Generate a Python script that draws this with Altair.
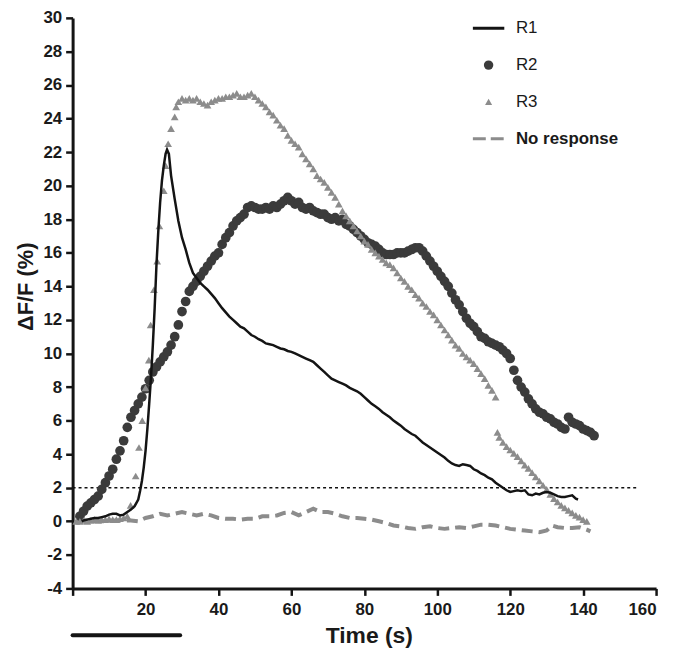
import altair as alt
import pandas as pd

# ---------------- data ----------------
series_names = ["R1", "R2", "R3", "No response"]
series_colors = ["#141414", "#3b3b3b", "#8c8c8c", "#8c8c8c"]

r1_time = [2.5, 3, 4, 5, 6, 7, 8, 9, 10, 11, 12, 13, 14, 15, 16, 17, 18, 18.5, 19, 19.5,
           20, 20.5, 21, 21.5, 22, 22.5, 23, 23.5, 24, 24.5, 25, 25.5, 25.9, 26.4, 27, 28,
           29, 30, 31, 32] + list(range(33, 139)) + [138.6]
r1_value = [0.0, 0.05, 0.1, 0.15, 0.2, 0.2, 0.25, 0.3, 0.4, 0.45, 0.45, 0.35, 0.4, 0.55, 0.7, 0.9,
            1.3, 1.8, 2.4, 3.2, 4.2, 5.5, 7.0, 8.6, 10.5, 12.7, 15.3, 17.3, 19.0, 20.3, 21.2, 21.9,
            22.15, 21.9, 20.6, 19.2, 17.9, 16.9, 16.2, 15.4,
            14.8, 14.5, 14.2, 14.0, 13.8, 13.55, 13.3, 13.0, 12.7, 12.45,
            12.2, 12.0, 11.8, 11.6, 11.5, 11.3, 11.1, 11.0, 10.85, 10.75,
            10.6, 10.55, 10.5, 10.4, 10.3, 10.25, 10.15, 10.1, 10.0, 9.9,
            9.8, 9.7, 9.6, 9.5, 9.3, 9.1, 8.9, 8.7, 8.5, 8.4,
            8.3, 8.2, 8.1, 7.95, 7.85, 7.75, 7.6, 7.4, 7.2, 7.0,
            6.85, 6.7, 6.5, 6.35, 6.2, 6.0, 5.85, 5.7, 5.5, 5.35,
            5.2, 5.1, 4.9, 4.7, 4.55, 4.4, 4.25, 4.1, 3.95, 3.8,
            3.6, 3.45, 3.35, 3.3, 3.4, 3.35, 3.3, 3.1, 3.0, 2.85,
            2.75, 2.6, 2.5, 2.3, 2.15, 2.0, 1.85, 1.75, 1.8, 1.85,
            1.8, 1.85, 1.6, 1.55, 1.65, 1.6, 1.7, 1.75, 1.7, 1.6,
            1.5, 1.45, 1.45, 1.5, 1.55, 1.35,
            1.3]

r2_time = list(range(2, 144))
r2_value = [0.3, 0.6, 0.9, 1.1, 1.3, 1.5, 1.9, 2.3, 2.7, 3.1,
            3.7, 4.2, 4.8, 5.6, 6.2, 6.6, 7.0, 7.4, 7.9, 8.4,
            8.9, 9.2, 9.5, 9.8, 10.1, 10.5, 11.0, 11.7, 12.5, 13.1,
            13.7, 14.0, 14.3, 14.6, 14.9, 15.2, 15.5, 15.8, 16.0, 16.5,
            16.9, 17.2, 17.6, 17.9, 18.1, 18.3, 18.7, 18.8, 18.7, 18.6,
            18.6, 18.7, 18.6, 18.8, 18.7, 18.9, 19.1, 19.3, 19.1, 18.9,
            19.0, 18.7, 18.6, 18.7, 18.5, 18.4, 18.3, 18.3, 18.1, 18.0,
            18.1, 17.9, 18.0, 17.7, 17.6, 17.4, 17.2, 17.0, 16.8, 16.6,
            16.5, 16.4, 16.2, 16.0, 15.9, 15.9, 15.9, 16.0, 16.0, 16.0,
            16.1, 16.2, 16.3, 16.3, 16.1, 15.8, 15.5, 15.2, 14.9, 14.6,
            14.3, 14.0, 13.6, 13.2, 12.9, 12.5, 12.1, 11.8, 11.6, 11.3,
            11.0, 10.9, 10.7, 10.6, 10.5, 10.4, 10.2, 10.0, 9.7, 9.0,
            8.4, 8.0, 7.7, 7.3, 7.0, 6.7, 6.5, 6.4, 6.2, 6.1,
            5.9, 5.8, 5.6, 5.5, 6.2, 5.9, 5.8, 5.7, 5.5, 5.4,
            5.3, 5.1]

r3_time = (list(range(1, 16))
           + [15.9, 17.3, 18.2, 19.1, 20.0, 20.9, 21.4, 22.3, 23.2, 23.8, 25.0, 25.5, 26.2, 27.0, 28.0, 28.4]
           + list(range(29, 117))
           + [116.5] + list(range(117, 142)))
r3_value = ([0.0, 0.0, 0.05, 0.0, 0.05, 0.1, 0.05, 0.1, 0.1, 0.15, 0.1, 0.1, 0.15, 0.2, 0.3]
            + [0.95, 2.7, 4.4, 6.0, 7.95, 9.6, 11.7, 13.8, 15.5, 17.6, 19.7, 21.2, 22.5, 23.4, 24.1, 24.7]
            + [25.0, 25.2, 25.1, 25.2, 25.1, 25.2, 25.0, 24.9, 24.8, 25.0,
               25.1, 25.2, 25.2, 25.3, 25.3, 25.4, 25.5, 25.3, 25.3, 25.4,
               25.5, 25.3, 25.1, 24.9, 24.7, 24.4, 24.2, 23.9, 23.6, 23.4,
               23.0, 22.7, 22.5, 22.3, 21.9, 21.6, 21.3, 21.0, 20.6, 20.4,
               20.2, 19.9, 19.6, 19.3, 18.9, 18.5, 18.2, 17.9, 17.6, 17.3,
               17.0, 16.7, 16.5, 16.2, 16.0, 15.8, 15.6, 15.4, 15.3, 15.1,
               14.8, 14.5, 14.3, 14.0, 13.8, 13.5, 13.3, 13.0, 12.8, 12.5,
               12.3, 12.0, 11.7, 11.4, 11.1, 10.8, 10.5, 10.3, 10.0, 9.8,
               9.6, 9.4, 9.1, 8.8, 8.5, 8.1, 7.8, 7.4]
            + [5.3, 5.0, 4.7, 4.45, 4.25, 4.05, 3.85, 3.6, 3.35, 3.15,
               2.9, 2.65, 2.4, 2.15, 1.9, 1.6, 1.35, 1.15, 0.95, 0.8,
               0.65, 0.5, 0.35, 0.25, 0.1, 0.0])

nr_time = [1, 4, 8, 12, 16, 18, 20, 22, 24, 26, 28, 30, 32, 34, 36, 38, 40, 42, 44, 46, 48, 50,
           52, 54, 56, 58, 60, 62, 64, 66, 68, 70, 72, 74, 76, 78, 80, 82, 84, 86, 88, 90, 92,
           94, 96, 98, 100, 102, 104, 106, 108, 110, 112, 114, 116, 118, 120, 122, 124, 126,
           128, 130, 131.5, 133, 135, 137, 139, 141, 142]
nr_value = [0.1, 0.05, 0.0, 0.05, 0.05, 0.0, 0.2, 0.3, 0.45, 0.35, 0.45, 0.55, 0.45, 0.35, 0.45,
            0.35, 0.2, 0.15, 0.15, 0.1, 0.15, 0.15, 0.3, 0.3, 0.35, 0.5, 0.55, 0.35, 0.55, 0.75,
            0.55, 0.55, 0.45, 0.3, 0.2, 0.2, 0.15, 0.1, 0.0, -0.1, -0.25, -0.3, -0.4, -0.45,
            -0.35, -0.3, -0.4, -0.45, -0.4, -0.35, -0.4, -0.3, -0.2, -0.2, -0.25, -0.35, -0.45,
            -0.5, -0.55, -0.6, -0.65, -0.55, -0.25, -0.35, -0.4, -0.4, -0.35, -0.5, -0.6]

threshold_value = [2.0]
threshold_start = [0]
threshold_end = [155]

stimulus_start = [0]
stimulus_end = [29.5]

x_ticks = [0, 20, 40, 60, 80, 100, 120, 140, 160]
y_ticks = list(range(-4, 31, 2))

# ---------------- chart ----------------
W, H = 587, 574
FONT = "Liberation Sans"

r1_df = pd.DataFrame({"time": r1_time, "value": r1_value, "series": "R1"})
r2_df = pd.DataFrame({"time": r2_time, "value": r2_value, "series": "R2"})
r3_df = pd.DataFrame({"time": r3_time, "value": r3_value, "series": "R3"})
nr_df = pd.DataFrame({"time": nr_time, "value": nr_value, "series": "No response"})
thr_df = pd.DataFrame({"time": threshold_start, "time_end": threshold_end, "value": threshold_value})
stim_df = pd.DataFrame({"time": stimulus_start, "time_end": stimulus_end})

x_scale = alt.Scale(domain=[0, 160], nice=False)
y_scale = alt.Scale(domain=[-4, 30], nice=False, zero=False)
x_axis = alt.Axis(values=x_ticks, title="Time (s)", labelExpr="datum.value == 0 ? '' : datum.label",
                  titleFontSize=23, labelPadding=6, titlePadding=7, titleX=298)
y_axis = alt.Axis(values=y_ticks, title="ΔF/F (%)", titleFontSize=22, labelPadding=4, titlePadding=5,
                  titleY=270,
                  labelExpr="replace(datum.label, '\u2212', '-')")

X = alt.X("time:Q", scale=x_scale, axis=x_axis)
Y = alt.Y("value:Q", scale=y_scale, axis=y_axis)

legend = alt.Legend(
    title=None, orient="none", legendX=401, legendY=-7, direction="vertical", columns=1,
    gridAlign="all", padding=0, rowPadding=8, labelOffset=10, labelFont=FONT, labelFontSize=17,
    labelColor="#1a1a1a", symbolOffset=0, symbolStrokeWidth=3,
    labelFontWeight=alt.ExprRef(expr="datum.label == 'No response' ? 'bold' : 'normal'"),
    symbolType=alt.ExprRef(expr="datum.label == 'R2' ? 'circle' : datum.label == 'R3' ? 'triangle-up' : 'stroke'"),
    symbolSize=alt.ExprRef(expr="datum.label == 'R2' ? 90 : datum.label == 'R3' ? 50 : 1000"),
    symbolStrokeColor=alt.ExprRef(expr="datum.label == 'R1' ? '#141414' : datum.label == 'No response' ? '#8c8c8c' : 'transparent'"),
    symbolDash=alt.ExprRef(expr="datum.label == 'No response' ? [13, 5] : [1, 0]"),
)
color = alt.Color("series:N", scale=alt.Scale(domain=series_names, range=series_colors), legend=legend)

thr = alt.Chart(thr_df).mark_rule(color="#111111", strokeWidth=1.5, strokeDash=[3, 3]).encode(
    x=X, x2="time_end:Q", y=Y)

nr = alt.Chart(nr_df).mark_line(color="#8c8c8c", strokeWidth=4, strokeDash=[11, 6]).encode(x=X, y=Y)

r2 = alt.Chart(r2_df).mark_point(shape="circle", filled=True, opacity=1, size=95).encode(
    x=X, y=Y, color=color)
r3 = alt.Chart(r3_df).mark_point(shape="triangle-up", filled=True, opacity=1, size=60).encode(
    x=X, y=Y, color=color)

r1 = alt.Chart(r1_df).mark_line(color="#141414", strokeWidth=2.5).encode(x=X, y=Y)

stim = alt.Chart(stim_df).mark_rule(color="#141414", strokeWidth=4, strokeCap="round", clip=False).encode(
    x=X, x2="time_end:Q", y=alt.value(H + 47))

chart = alt.layer(thr, nr, r2, r3, r1, stim).properties(
    width=W, height=H,
    padding={"left": 65, "top": 8, "right": 12, "bottom": 58},
    autosize=alt.AutoSizeParams(type="none"),
    background="white",
).configure_axis(
    domainColor="#141414", domainWidth=3, tickColor="#141414", tickWidth=2.5, tickSize=7,
    labelFont=FONT, labelFontWeight="bold", labelFontSize=17, labelColor="#1a1a1a",
    titleFont=FONT, titleFontWeight="bold", titleColor="#1a1a1a", grid=False,
).configure_view(stroke=None)

chart.save("out.html", embed_options={"renderer": "svg", "actions": False})
